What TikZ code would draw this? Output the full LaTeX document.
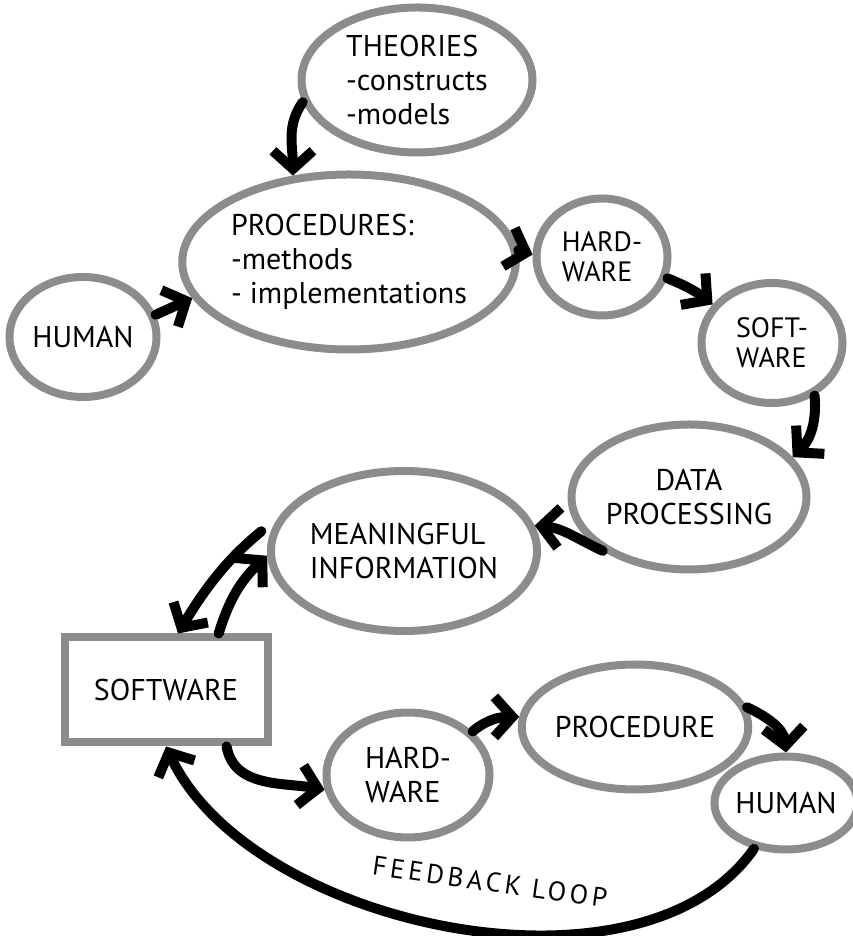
\documentclass[tikz,border=0pt]{standalone}
\usepackage{fontspec}
\setmainfont{PT Sans}
\newfontfamily\loopfont[LetterSpace=14]{PT Sans}
\usetikzlibrary{shapes.geometric,arrows.meta}
\definecolor{pencil}{HTML}{8C8C8C}

\begin{document}
\begin{tikzpicture}[x=1pt, y=1pt,
    bubble/.style={ellipse, draw=pencil, line width=8pt, inner sep=0pt, font=\fontsize{30}{34}\selectfont},
    arr/.style={line width=10pt, line cap=round, -{Straight Barb[length=18pt, width=40pt]}}]
      \useasboundingbox (0, 0) rectangle (853, 936);

      \node [bubble, minimum width=231pt, minimum height=145pt, align=left] (theo) at (417, 856) {THEORIES\\-constructs\\-models};
      \node [bubble, minimum width=278pt, minimum height=175pt, align=left] (proc) at (349, 674) {PROCEDURES:\\-methods\\- implementations};
      \node [bubble, minimum width=147pt, minimum height=120pt] (hum) at (83, 599) {HUMAN};
      \node [bubble, minimum width=131pt, minimum height=117pt, align=left, font=\fontsize{28}{30}\selectfont] (hw) at (602, 679) {HARD-\\WARE};
      \node [bubble, minimum width=141pt, minimum height=120pt, align=left, font=\fontsize{28}{30}\selectfont] (sw) at (772, 593) {SOFT-\\WARE};
      \node [bubble, minimum width=218pt, minimum height=145pt, align=center] (dp) at (689, 439) {DATA\\PROCESSING};
      \node [bubble, minimum width=238pt, minimum height=160pt, align=left] (info) at (404, 385) {MEANINGFUL\\INFORMATION};
      \node [draw=pencil, line width=8pt, minimum width=203pt, minimum height=105pt, font=\fontsize{30}{34}\selectfont] (swbox) at (166, 246) {SOFTWARE};
      \node [bubble, minimum width=163pt, minimum height=125pt, align=left] (hw2) at (408, 161) {HARD-\\WARE};
      \node [bubble, minimum width=216pt, minimum height=125pt] (proc2) at (635, 209) {PROCEDURE};
      \node [bubble, minimum width=133pt, minimum height=93pt] (hum2) at (786, 133) {HUMAN};

      \draw [arr] (theo.191) to [out=235, in=90] (proc.123);
      \draw [arr] (hum.17) -- (proc.193);
      \draw [arr] (proc.4) -- (hw.178);
      \draw [arr] (hw.-18) to [bend left=8] (sw.147);
      \draw [arr] (sw.-51) to [out=-85, in=45] (dp.21);
      \draw [arr] (dp.212) to [out=155, in=-5] (info.11);
      \draw [arr, shorten <=22pt] (info.165) to [bend right=10] (swbox.78);
      \draw [arr] (swbox.47) to [bend left=15] (info.182);
      \draw [arr] (swbox.-43) to [out=-80, in=170] (hw2.190);
      \draw [arr] (hw2.34) to [out=40, in=180] (proc2.175);
      \draw [arr] (proc2.10) to [out=-25, in=95] (hum2.north);
      \draw [arr] (hum2.235) to [out=-125, in=-65, looseness=0.85] (swbox.south);

      \node [font=\loopfont\fontsize{27}{32}\selectfont, rotate=-8] (fb) at (490, 54) {FEEDBACK LOOP};
    \end{tikzpicture}
\end{document}
